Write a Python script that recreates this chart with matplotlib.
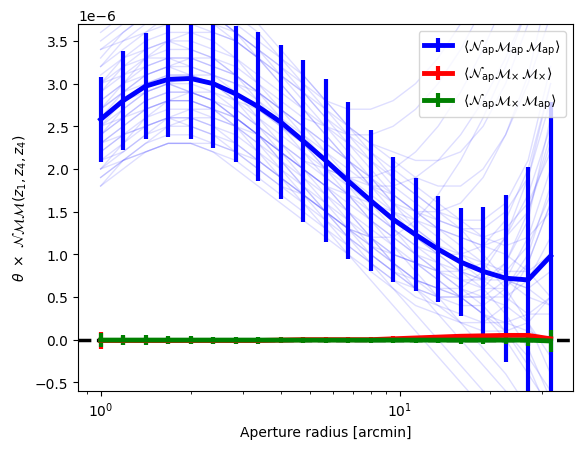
import numpy as np
import matplotlib
matplotlib.use('Agg')
import matplotlib.pyplot as plt

# aperture radii [arcmin]
theta = np.logspace(0, np.log10(32), 21)

# mean signals (units of 1e-6)
mean_map = [2.58, 2.80, 2.97, 3.05, 3.06, 3.00, 2.88, 2.73, 2.55, 2.33, 2.10,
            1.86, 1.63, 1.41, 1.23, 1.06, 0.91, 0.80, 0.72, 0.70, 0.98]
err_map = [0.50, 0.58, 0.62, 0.67, 0.71, 0.75, 0.80, 0.87, 0.90, 0.95, 0.95,
           0.92, 0.83, 0.73, 0.66, 0.62, 0.63, 0.75, 0.98, 1.32, 1.81]

mean_xx = [-0.01, -0.01, -0.01, -0.01, -0.01, -0.01, -0.01, -0.01, -0.005, 0.0, 0.0,
           0.0, 0.0, 0.01, 0.02, 0.03, 0.04, 0.045, 0.05, 0.05, 0.01]
err_xx = [0.10, 0.05, 0.045, 0.04, 0.04, 0.035, 0.035, 0.03, 0.03, 0.03, 0.03,
          0.03, 0.03, 0.03, 0.025, 0.025, 0.025, 0.025, 0.03, 0.03, 0.03]

mean_xap = [-0.005, -0.005, -0.005, -0.005, -0.005, -0.005, -0.005, -0.005, -0.005, -0.005, -0.005,
            -0.005, -0.005, -0.005, -0.005, -0.005, -0.005, -0.005, -0.005, -0.005, -0.015]
err_xap = [0.08, 0.06, 0.055, 0.05, 0.045, 0.04, 0.04, 0.04, 0.035, 0.035, 0.03,
           0.03, 0.03, 0.03, 0.03, 0.035, 0.04, 0.045, 0.05, 0.07, 0.125]

# individual realisations (units of 1e-6)
realisations = [
    [2.6, 2.8, 3.0, 3.1, 3.1, 3.0, 2.9, 2.7, 2.5, 2.3, 2.1, 1.9, 1.7, 1.5, 1.3, 1.1, 1.0, 0.9, 0.8, 0.8, 1.0],
    [1.8, 2.0, 2.2, 2.3, 2.3, 2.2, 2.1, 1.9, 1.7, 1.5, 1.3, 1.1, 0.9, 0.7, 0.5, 0.4, 0.3, 0.2, 0.2, 0.3, 0.5],
    [3.5, 3.7, 3.9, 4.0, 4.0, 3.9, 3.7, 3.5, 3.3, 3.0, 2.7, 2.4, 2.1, 1.8, 1.6, 1.4, 1.3, 1.2, 1.3, 1.6, 2.2],
    [2.2, 2.4, 2.6, 2.7, 2.7, 2.6, 2.5, 2.3, 2.1, 1.9, 1.7, 1.5, 1.3, 1.1, 0.9, 0.7, 0.5, 0.3, 0.1, -0.2, -0.6],
    [3.0, 3.3, 3.5, 3.6, 3.6, 3.5, 3.3, 3.0, 2.7, 2.4, 2.1, 1.8, 1.5, 1.3, 1.1, 1.0, 1.0, 1.1, 1.4, 2.0, 3.0],
    [2.0, 2.3, 2.6, 2.8, 2.9, 2.9, 2.8, 2.7, 2.5, 2.3, 2.0, 1.8, 1.6, 1.4, 1.2, 1.0, 0.8, 0.7, 0.7, 0.6, 0.4],
    [2.8, 3.0, 3.2, 3.3, 3.3, 3.2, 3.1, 2.9, 2.7, 2.5, 2.2, 1.9, 1.6, 1.3, 1.0, 0.8, 0.6, 0.5, 0.5, 0.7, 1.2],
    [2.4, 2.6, 2.8, 2.9, 2.9, 2.8, 2.6, 2.4, 2.2, 2.0, 1.8, 1.7, 1.6, 1.5, 1.4, 1.3, 1.2, 1.1, 1.0, 0.8, 0.5],
    [3.3, 3.6, 3.8, 3.9, 3.9, 3.8, 3.6, 3.4, 3.2, 2.9, 2.6, 2.3, 2.0, 1.7, 1.5, 1.3, 1.1, 0.9, 0.6, 0.2, -0.4],
    [1.9, 2.1, 2.3, 2.5, 2.6, 2.6, 2.5, 2.4, 2.2, 2.0, 1.8, 1.5, 1.2, 0.9, 0.7, 0.5, 0.4, 0.4, 0.6, 1.0, 1.8],
    [2.7, 2.9, 3.0, 3.0, 2.9, 2.8, 2.6, 2.4, 2.2, 2.0, 1.8, 1.6, 1.4, 1.2, 1.0, 0.9, 0.8, 0.6, 0.3, -0.1, -0.7],
    [3.1, 3.3, 3.4, 3.5, 3.5, 3.4, 3.3, 3.1, 2.9, 2.7, 2.5, 2.3, 2.1, 1.9, 1.7, 1.5, 1.4, 1.4, 1.6, 2.1, 3.2],
    [2.3, 2.5, 2.7, 2.8, 2.8, 2.7, 2.5, 2.3, 2.0, 1.7, 1.4, 1.1, 0.9, 0.7, 0.6, 0.5, 0.5, 0.5, 0.4, 0.2, -0.2],
    [3.6, 3.8, 4.0, 4.1, 4.1, 4.0, 3.8, 3.6, 3.3, 3.1, 2.8, 2.5, 2.2, 1.9, 1.7, 1.5, 1.3, 1.0, 0.7, 0.5, 0.4],
    [2.5, 2.7, 2.9, 3.0, 3.1, 3.1, 3.0, 2.9, 2.7, 2.5, 2.3, 2.1, 1.9, 1.7, 1.5, 1.3, 1.2, 1.1, 1.2, 1.5, 2.4],
    [2.1, 2.2, 2.4, 2.5, 2.5, 2.4, 2.3, 2.1, 1.9, 1.7, 1.5, 1.3, 1.1, 1.0, 0.9, 0.8, 0.6, 0.4, 0.1, -0.3, -0.9],
    [2.9, 3.1, 3.3, 3.4, 3.4, 3.3, 3.1, 2.8, 2.5, 2.2, 1.9, 1.7, 1.5, 1.3, 1.1, 0.9, 0.7, 0.6, 0.6, 0.9, 1.6],
    [3.4, 3.5, 3.6, 3.7, 3.7, 3.6, 3.5, 3.3, 3.1, 2.9, 2.6, 2.4, 2.2, 2.0, 1.8, 1.6, 1.4, 1.2, 1.1, 1.2, 1.5],
    [2.6, 2.9, 3.1, 3.2, 3.2, 3.1, 2.9, 2.6, 2.3, 2.0, 1.7, 1.4, 1.1, 0.9, 0.7, 0.6, 0.6, 0.8, 1.2, 1.9, 3.0],
    [1.8, 2.1, 2.3, 2.4, 2.4, 2.3, 2.2, 2.0, 1.8, 1.7, 1.5, 1.3, 1.2, 1.0, 0.9, 0.7, 0.5, 0.3, 0.2, 0.1, 0.0],
    [3.2, 3.4, 3.6, 3.8, 3.8, 3.7, 3.6, 3.4, 3.1, 2.8, 2.5, 2.2, 1.9, 1.6, 1.3, 1.1, 0.9, 0.7, 0.5, 0.3, 0.3],
    [2.4, 2.7, 2.9, 3.0, 3.0, 2.9, 2.7, 2.5, 2.3, 2.1, 1.9, 1.7, 1.4, 1.2, 1.0, 0.8, 0.7, 0.7, 0.9, 1.4, 2.6],
    [2.0, 2.2, 2.4, 2.6, 2.7, 2.7, 2.6, 2.4, 2.1, 1.8, 1.5, 1.2, 1.0, 0.8, 0.7, 0.6, 0.5, 0.3, 0.0, -0.4, -0.8],
    [3.0, 3.2, 3.3, 3.3, 3.2, 3.1, 3.0, 2.8, 2.6, 2.4, 2.2, 2.0, 1.8, 1.7, 1.5, 1.4, 1.3, 1.3, 1.5, 1.9, 2.8],
    [2.7, 3.0, 3.3, 3.5, 3.6, 3.6, 3.5, 3.3, 3.0, 2.7, 2.4, 2.1, 1.8, 1.5, 1.2, 1.0, 0.8, 0.7, 0.8, 1.1, 1.7],
    [2.2, 2.4, 2.5, 2.6, 2.6, 2.5, 2.4, 2.2, 2.0, 1.8, 1.6, 1.4, 1.2, 1.0, 0.9, 0.8, 0.8, 0.9, 1.2, 1.7, 2.5],
    [3.7, 3.9, 4.1, 4.2, 4.2, 4.1, 3.9, 3.7, 3.4, 3.1, 2.8, 2.5, 2.3, 2.1, 1.9, 1.8, 1.8, 2.0, 2.4, 3.1, 4.2],
    [2.5, 2.6, 2.7, 2.8, 2.8, 2.7, 2.6, 2.4, 2.2, 2.0, 1.8, 1.5, 1.2, 0.9, 0.6, 0.4, 0.2, 0.1, 0.1, 0.2, 0.5],
    [2.9, 3.2, 3.4, 3.5, 3.4, 3.3, 3.1, 2.9, 2.7, 2.5, 2.3, 2.1, 1.9, 1.6, 1.4, 1.2, 1.0, 0.8, 0.7, 0.6, 0.8],
    [1.9, 2.1, 2.2, 2.3, 2.3, 2.3, 2.2, 2.1, 1.9, 1.7, 1.5, 1.3, 1.1, 0.9, 0.7, 0.6, 0.5, 0.5, 0.7, 1.2, 2.0],
    [2.4, 2.6, 2.8, 2.9, 2.9, 2.8, 2.7, 2.5, 2.3, 2.1, 2.0, 1.9, 1.9, 2.0, 2.2, 2.5, 2.9, 3.4, 4.0, 4.6, 5.2],
    [2.8, 3.0, 3.1, 3.2, 3.1, 3.0, 2.8, 2.6, 2.4, 2.2, 2.0, 1.9, 1.8, 1.8, 1.9, 2.1, 2.4, 2.8, 3.3, 3.9, 4.5],
    [2.6, 2.8, 2.9, 3.0, 2.9, 2.8, 2.6, 2.4, 2.1, 1.8, 1.5, 1.2, 0.9, 0.6, 0.3, 0.0, -0.3, -0.6, -0.9, -1.2, -1.5],
    [2.3, 2.5, 2.7, 2.8, 2.8, 2.7, 2.5, 2.2, 1.9, 1.6, 1.3, 1.0, 0.7, 0.4, 0.1, -0.2, -0.5, -0.8, -1.1, -1.4, -1.7],
    [3.4, 3.6, 3.8, 3.9, 3.9, 3.8, 3.6, 3.4, 3.2, 3.0, 2.8, 2.7, 2.7, 2.8, 3.0, 3.3, 3.7, 4.2, 4.8, 5.4, 6.0],
    [2.1, 2.3, 2.5, 2.6, 2.6, 2.5, 2.3, 2.1, 1.9, 1.7, 1.5, 1.3, 1.2, 1.2, 1.4, 1.7, 2.1, 2.6, 3.2, 3.9, 4.6],
    [3.0, 3.1, 3.2, 3.3, 3.3, 3.2, 3.1, 2.9, 2.6, 2.3, 2.0, 1.7, 1.4, 1.1, 0.8, 0.5, 0.2, -0.1, -0.4, -0.8, -1.2],
    [2.7, 2.9, 3.1, 3.2, 3.3, 3.3, 3.2, 3.0, 2.8, 2.6, 2.5, 2.4, 2.4, 2.5, 2.7, 3.0, 3.4, 3.9, 4.4, 5.0, 5.6],
    [3.8, 4.0, 4.1, 4.1, 4.0, 3.8, 3.6, 3.3, 3.0, 2.7, 2.4, 2.1, 1.8, 1.6, 1.5, 1.5, 1.6, 1.9, 2.4, 3.0, 3.8],
    [2.0, 2.1, 2.2, 2.3, 2.3, 2.2, 2.0, 1.8, 1.6, 1.4, 1.2, 1.0, 0.8, 0.6, 0.4, 0.3, 0.2, 0.2, 0.4, 0.9, 1.6],
    [2.5, 2.8, 3.0, 3.1, 3.1, 3.0, 2.8, 2.5, 2.2, 1.9, 1.6, 1.3, 1.0, 0.8, 0.6, 0.5, 0.5, 0.6, 0.9, 1.5, 2.3],
    [3.2, 3.5, 3.7, 3.8, 3.8, 3.7, 3.5, 3.3, 3.1, 2.9, 2.7, 2.5, 2.3, 2.2, 2.1, 2.1, 2.2, 2.5, 3.0, 3.7, 4.5],
    [2.3, 2.4, 2.5, 2.6, 2.5, 2.4, 2.2, 2.0, 1.8, 1.6, 1.4, 1.2, 1.0, 0.8, 0.6, 0.3, 0.0, -0.3, -0.6, -1.0, -1.4],
]

scale = 1e-6

fig, ax = plt.subplots(figsize=(5.83, 4.52))
fig.subplots_adjust(left=0.134, right=0.983, top=0.945, bottom=0.133)

for r in realisations:
    ax.plot(theta, np.array(r) * scale, color='blue', alpha=0.13, lw=1)

ax.axhline(0, color='k', ls='--', lw=2.5)

ax.errorbar(theta, np.array(mean_map) * scale, yerr=np.array(err_map) * scale,
            color='blue', lw=3.5, elinewidth=3,
            label=r'$\langle \mathcal{N}_{\rm ap}\mathcal{M}_{\rm ap}\,\mathcal{M}_{\rm ap}\rangle$')
ax.errorbar(theta, np.array(mean_xx) * scale, yerr=np.array(err_xx) * scale,
            color='red', lw=3.5, elinewidth=3,
            label=r'$\langle \mathcal{N}_{\rm ap}\mathcal{M}_{\times}\,\mathcal{M}_{\times}\rangle$')
ax.errorbar(theta, np.array(mean_xap) * scale, yerr=np.array(err_xap) * scale,
            color='green', lw=3.5, elinewidth=3,
            label=r'$\langle \mathcal{N}_{\rm ap}\mathcal{M}_{\times}\,\mathcal{M}_{\rm ap}\rangle$')

ax.set_xscale('log')
ax.set_ylim(-0.6e-6, 3.7e-6)
ax.set_xlabel('Aperture radius [arcmin]')
ax.set_ylabel(r'$\theta\ \times\ \mathcal{NMM}(z_1, z_4, z_4)$')
ax.legend(loc='upper right')

fig.savefig('out.png', dpi=100)
